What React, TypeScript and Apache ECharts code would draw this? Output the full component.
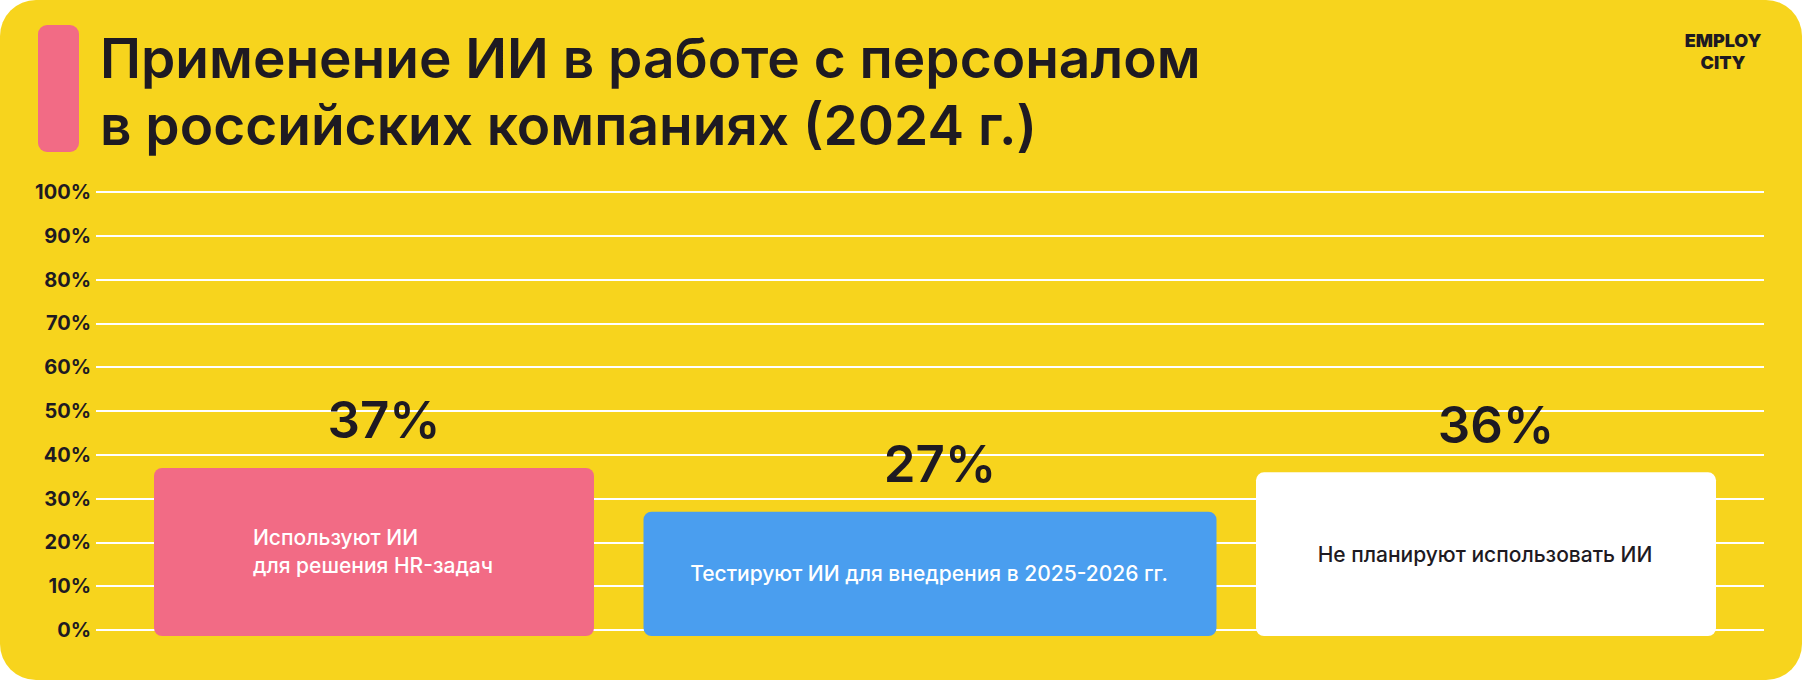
import React, { useEffect, useRef } from "react";
import * as echarts from "echarts";

const TITLE_LINES = ["Применение ИИ в работе с персоналом", "в российских компаниях (2024 г.)"];
const LOGO_LINES = ["EMPLOY", "CITY"];
const CATEGORIES = [
  "Используют ИИ\nдля решения HR-задач",
  "Тестируют ИИ для внедрения в 2025-2026 гг.",
  "Не планируют использовать ИИ",
];
const VALUES = [37, 27, 36];
const Y_TICKS_MIN = 0;
const Y_TICKS_MAX = 100;
const Y_TICK_STEP = 10;

const BAR_COLORS = ["#F26B85", "#4A9EEF", "#FFFFFF"];
const BAR_TEXT_COLORS = ["#FFFFFF", "#FFFFFF", "#1E1A22"];
const BAR_WIDTHS = [440, 573, 460];
const YELLOW = "#F7D41D";
const DARK = "#1E1A22";
const FONT = "Inter, 'Noto Sans', sans-serif";

function measure(text: string, font: string): number {
  const c = document.createElement("canvas").getContext("2d");
  if (!c) return text.length * 10;
  c.font = font;
  return c.measureText(text).width;
}

export default function App() {
  const ref = useRef<HTMLDivElement>(null);
  useEffect(() => {
    document.body.style.margin = "0";
    if (!ref.current) return;
    const chart = echarts.init(ref.current, undefined, { renderer: "svg" });
    const innerSize = 21;
    const innerFont = `500 ${innerSize}px ${FONT}`;

    const option: any = {
      animation: false,
      backgroundColor: "#FFFFFF",
      graphic: [
        { type: "rect", z: -10, shape: { x: 0, y: 0, width: 1802, height: 680, r: 36 }, style: { fill: YELLOW } },
        { type: "rect", shape: { x: 38, y: 25, width: 41, height: 127, r: 9 }, style: { fill: BAR_COLORS[0] } },
        ...TITLE_LINES.map((t, i) => ({
          type: "text",
          x: 100,
          y: 58 + i * 67,
          style: { text: t, fill: DARK, font: `600 55px ${FONT}`, align: "left", verticalAlign: "middle" },
        })),
        ...LOGO_LINES.map((t, i) => ({
          type: "text",
          x: 1723,
          y: 40 + i * 22,
          style: { text: t, fill: DARK, font: `900 18px ${FONT}`, align: "center", verticalAlign: "middle" },
        })),
      ],
      grid: { left: 96, right: 38, top: 192, bottom: 50, containLabel: false },
      xAxis: {
        type: "category",
        data: CATEGORIES,
        axisLine: { show: false },
        axisTick: { show: false },
        axisLabel: { show: false },
        splitLine: { show: false },
      },
      yAxis: {
        type: "value",
        min: Y_TICKS_MIN,
        max: Y_TICKS_MAX,
        interval: Y_TICK_STEP,
        axisLine: { show: false },
        axisTick: { show: false },
        axisLabel: {
          formatter: "{value}%",
          color: DARK,
          fontSize: 20,
          fontWeight: 700,
          fontFamily: FONT,
          margin: 5,
        },
        splitLine: { lineStyle: { color: "#FFFFFF", width: 2 } },
      },
      series: [
        {
          type: "custom",
          data: VALUES.map((v, i) => [i, v]),
          encode: { x: 0, y: 1 },
          clip: false,
          renderItem: (params: any, api: any) => {
            const idx = params.dataIndex;
            const val = api.value(1);
            const top = api.coord([idx, val]);
            const base = api.coord([idx, 0]);
            const w = BAR_WIDTHS[idx];
            const x0 = top[0] - w / 2;
            const h = base[1] - top[1] + 6;
            const lines = CATEGORIES[idx].split("\n");
            const maxW = Math.max(...lines.map((l) => measure(l, innerFont))) + 2;
            const rich = lines.map((l) => `{a|${l}}`).join("\n");
            return {
              type: "group",
              children: [
                {
                  type: "rect",
                  shape: { x: x0, y: top[1], width: w, height: h, r: 8 },
                  style: { fill: BAR_COLORS[idx] },
                },
                {
                  type: "text",
                  x: top[0],
                  y: top[1] + h / 2,
                  style: {
                    text: rich,
                    align: "center",
                    verticalAlign: "middle",
                    fill: BAR_TEXT_COLORS[idx],
                    rich: {
                      a: {
                        width: maxW,
                        align: "left",
                        fontSize: innerSize,
                        fontWeight: 500,
                        fontFamily: FONT,
                        lineHeight: 28,
                        fill: BAR_TEXT_COLORS[idx],
                      },
                    },
                  },
                },
                {
                  type: "text",
                  x: top[0] + 10,
                  y: top[1] - 48,
                  style: {
                    text: `${val}%`,
                    align: "center",
                    verticalAlign: "middle",
                    fill: DARK,
                    font: `600 51px ${FONT}`,
                  },
                },
              ],
            };
          },
        },
      ],
    };
    chart.setOption(option);
    return () => chart.dispose();
  }, []);
  return <div ref={ref} style={{ width: 1802, height: 680 }} />;
}
